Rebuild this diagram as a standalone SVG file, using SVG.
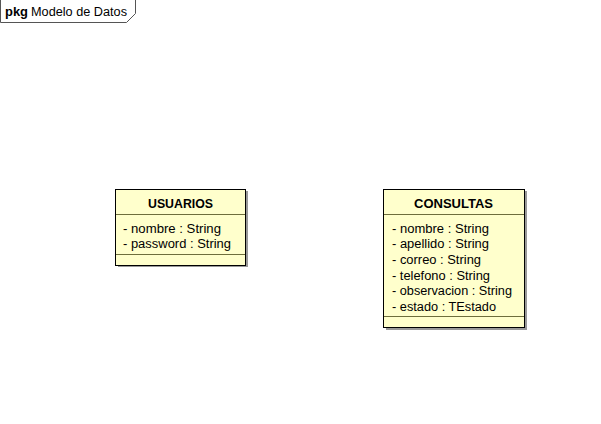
<svg xmlns="http://www.w3.org/2000/svg" width="601" height="424" viewBox="0 0 601 424">
<style>
.t{font-family:"Liberation Sans",Arial,sans-serif;font-size:12px;fill:#000}
.b{font-weight:bold}
.box{fill:#FFFFCC;stroke:#000;stroke-width:1}
.sh{fill:#999}
.div{stroke:#6E6E3C;stroke-width:1}
</style>
<rect width="601" height="424" fill="#fff"/>
<g id="frame">
<path d="M0.5,0 V22.5 H126.5 L135.5,13.5 V0" fill="#fff" stroke="#555" stroke-width="1"/>
<text class="t" x="5" y="16"><tspan class="b" textLength="23" lengthAdjust="spacingAndGlyphs">pkg</tspan><tspan x="31" textLength="96" lengthAdjust="spacingAndGlyphs">Modelo de Datos</tspan></text>
</g>
<g id="connectors"></g>
<g id="usuarios">
<rect class="sh" x="118" y="191" width="130" height="76"/>
<rect class="box" x="115.5" y="189.5" width="130" height="76"/>
<line class="div" x1="116" y1="214.5" x2="245" y2="214.5"/>
<line class="div" x1="116" y1="254.5" x2="245" y2="254.5"/>
<text class="t b" x="148" y="207.5" textLength="65" lengthAdjust="spacingAndGlyphs">USUARIOS</text>
<text class="t" x="123" y="232.5" textLength="98" lengthAdjust="spacingAndGlyphs">- nombre : String</text>
<text class="t" x="123" y="248" textLength="108" lengthAdjust="spacingAndGlyphs">- password : String</text>
</g>
<g id="consultas">
<rect class="sh" x="386" y="191" width="141" height="139"/>
<rect class="box" x="383.5" y="189.5" width="141" height="138"/>
<line class="div" x1="384" y1="214.5" x2="524" y2="214.5"/>
<line class="div" x1="384" y1="316.5" x2="524" y2="316.5"/>
<text class="t b" x="414" y="207.5" textLength="79" lengthAdjust="spacingAndGlyphs">CONSULTAS</text>
<text class="t" x="392" y="232.5" textLength="97" lengthAdjust="spacingAndGlyphs">- nombre : String</text>
<text class="t" x="392" y="248.2" textLength="97" lengthAdjust="spacingAndGlyphs">- apellido : String</text>
<text class="t" x="392" y="263.9" textLength="89" lengthAdjust="spacingAndGlyphs">- correo : String</text>
<text class="t" x="392" y="279.6" textLength="98" lengthAdjust="spacingAndGlyphs">- telefono : String</text>
<text class="t" x="392" y="295.3" textLength="120" lengthAdjust="spacingAndGlyphs">- observacion : String</text>
<text class="t" x="392" y="311" textLength="104" lengthAdjust="spacingAndGlyphs">- estado : TEstado</text>
</g>
</svg>
